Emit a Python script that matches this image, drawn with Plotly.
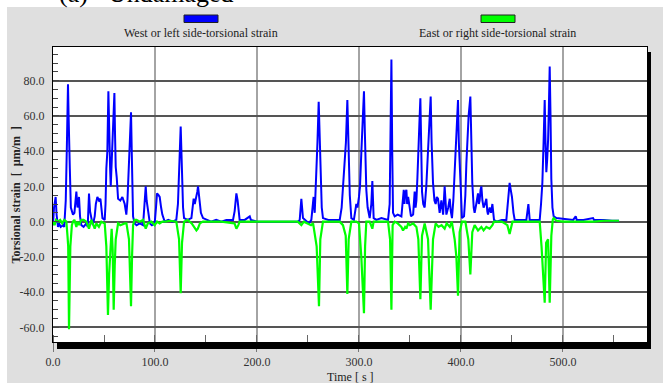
import plotly.graph_objects as go

# ---------------- data ----------------
west_t = [0, 1, 2.6, 3.5, 4.9, 6, 7.5, 9.8, 11, 12.5, 13.5, 14.7, 15.3, 15.7, 16.5, 17.5, 19.6, 21, 22.9, 24,
          25.5, 26.5, 27.8, 30, 32.7, 34, 35.3, 36.3, 37.6, 39, 40.9, 42, 43.5, 45, 46.5, 47.4, 48.5, 50.7, 51.5, 52.3,
          53.3, 54.3, 55, 56, 56.6, 57.5, 58.5, 60.2, 60.8, 61.5, 62.5, 63.8, 66, 68, 70.3, 71.9, 73, 74.5, 75.5, 76.5,
          77.2, 78.5, 80, 82, 85, 88.3, 89.5, 90.9, 91.8, 93.2, 95, 97, 99.7, 101, 102, 103.5, 104.6, 106, 107.2, 109.5,
          113, 117, 120.9, 122.5, 123.6, 124.5, 125.2, 126, 126.8, 127.5, 128.5, 132, 135.7, 136.5, 137.9, 139, 140.6, 141.5, 142.2, 143,
          143.8, 145, 147.1, 150.4, 155, 160, 165, 170, 176.5, 178.1, 179.8, 181, 181.7, 183, 188, 192.9, 194, 200,
          210, 220, 230, 240, 241.9, 243.5, 245.1, 248.4, 251, 253.3, 254.5, 255.5, 256.6, 258.2, 259.3, 260.5, 261.3, 262.1, 263.5, 264.7,
          270, 275, 281.1, 283, 284.3, 286, 287.2, 288.6, 289.3, 289.9, 291, 292.5, 295, 297.4, 298.5, 300, 301, 302.3, 303.5, 304.9,
          305.8, 307.2, 308.5, 310.5, 312.1, 313.1, 314.4, 317, 322, 328.5, 330.1, 331.2, 331.8, 332.6, 333.4, 335, 338, 341.6, 343.2, 343.9,
          344.6, 345.2, 346.5, 347.2, 348.2, 349.8, 351, 353.1, 354.6, 355.5, 356.3, 357.3, 358.2, 359.2, 360.2, 361, 361.8, 363, 364.4, 366,
          367.7, 369, 370.3, 371.2, 372.6, 374, 375.2, 376.3, 377.5, 378.5, 379.1, 380.8, 382.5, 384, 385, 385.7, 387.5, 389, 390, 391.2,
          392.5, 393.8, 395.5, 397.1, 397.9, 398.7, 400, 401, 403, 404.3, 405.3, 406.5, 407.5, 409.2, 410, 411.1, 412.5, 413.4, 415, 416.7,
          417.5, 418.3, 419.2, 420, 421, 422.2, 423.5, 424.9, 425.8, 426.5, 428.1, 429.5, 430.8, 431.6, 432.4, 434.7, 440, 444.5, 445.5, 446.5,
          447.7, 448.8, 450, 451.5, 452.7, 458, 464.1, 465, 466.1, 467.4, 472, 477.2, 478.5, 479.8, 481, 482.1, 482.9, 483.7, 484.5, 485.4,
          486.2, 487, 487.8, 488.6, 489.7, 490.9, 493.6, 500, 505, 510, 512.5, 513.5, 520, 529.5, 530.5, 540, 548, 555]
west_v = [-2, 8, 14, 4, -3, -1, -3, -2, -3, 12, 40, 78, 60, 42, 30, 8, 4, 5, 17, 8,
          14, 3, -2, -3, -1, -3, 16, 6, 2, -2, 3, 10, 14, 12, 13, 8, 2, 1, 10, 30,
          40, 74, 45, 30, 20, 35, 45, 73, 50, 31, 25, 13, 12, 14, 10, 4, 12, 30, 45, 62,
          40, 3, -1, -2, -1, -2, 8, 20, 12, 6, -1, -2, -1, 8, 16, 15, 14, 8, 4, 0,
          1, 0, 1, 10, 28, 40, 54, 38, 20, 8, 2, 1, 2, 8, 13, 10, 14, 17, 20, 15,
          10, 5, 2, 1, 0, 1, 0, 1, 1, 6, 16, 12, 8, 1, 1, 3, 1, 0,
          0, 0, 0, 0, 1, 13, 2, 0, -1, 1, 10, 14, 5, 25, 45, 68, 48, 30, 8, 2,
          1, 1, 1, 8, 20, 30, 45, 69, 50, 35, 15, 2, 1, 10, 8, 14, 20, 39, 55, 74,
          50, 18, 8, 2, 10, 23, 2, 1, 2, 1, 10, 50, 92, 40, 5, 3, 4, 3, 12, 18,
          10, 16, 18, 10, 14, 8, 3, 4, 17, 8, 12, 25, 36, 55, 70, 40, 17, 10, 8, 20,
          39, 55, 71, 45, 22, 12, 10, 14, 13, 8, 5, 12, 4, 20, 8, 4, 8, 13, 6, 2,
          12, 27, 45, 69, 45, 31, 10, 2, 3, 15, 33, 50, 60, 71, 40, 22, 8, 5, 10, 16,
          10, 12, 18, 20, 12, 8, 10, 13, 6, 4, 8, 5, 10, 6, 1, 0, 1, 1, 8, 15,
          22, 18, 14, 5, 1, 1, 1, 5, 10, 1, 1, 1, 10, 22, 45, 69, 45, 28, 35, 46,
          65, 88, 60, 24, 8, 3, 2, 1.5, 1.5, 1, 3, 1, 1, 2, 1, 1, 0.5, 0.5]

east_t = [0, 1.5, 3, 5, 7, 9, 11, 13.1, 14.2, 14.9, 15.7, 16.4, 17, 18.5, 19.6, 21, 22.9, 24, 25.5, 27.8,
          30, 32.7, 35.3, 37.6, 40.9, 42.5, 45, 47.4, 50.7, 52.3, 53.9, 55, 56.6, 57.5, 58.5, 59.5, 60.5, 61.5, 63.8, 66,
          70.3, 72, 74.5, 76.5, 77.5, 78.5, 80, 82, 85, 88.3, 90.9, 93, 96.4, 99.7, 102, 104.6, 107.2, 110, 115, 120.9,
          123.6, 125.2, 126.5, 128.5, 132, 136, 140.6, 142, 144, 147, 150, 165, 178, 179.8, 181.7, 183, 190, 200, 230, 240,
          243.5, 246, 253, 255, 258.5, 260.8, 262.1, 264.7, 270, 281.1, 284.3, 287, 288.6, 289.9, 292.5, 297.4, 300, 302.3, 304.9, 306,
          307.2, 310.5, 313.1, 314.4, 320, 328.5, 330.5, 331.8, 333, 335, 338, 341.6, 343.2, 345.2, 346.5, 348.2, 350, 353.1, 356.3, 358.2,
          360.2, 361.8, 364.4, 367.7, 370.3, 372.6, 375.2, 378, 381, 384, 386, 389, 391, 393.8, 395.5, 397.1, 398.7, 401, 404.3, 407.2,
          409.2, 411.1, 413.4, 416.7, 420, 422.2, 424.9, 428.1, 430.8, 432.4, 440, 445.5, 447.7, 449, 450.5, 460, 470, 477.2, 479, 482.1,
          483.5, 485.4, 487, 488, 488.6, 490, 490.9, 493.6, 500, 510, 520, 530, 540, 550, 555]
east_v = [0, -2, 1, 0, 1, -1, 1, 0, -8, -14, -61, -30, -14, -2, 0, 1, -3, 0, -2, 1,
          1, 0, -4, 1, -4, -1, -3, 0, -1, -14, -53, -30, -14, -4, -16, -50, -25, -10, -1, -2,
          -1, -1, -10, -48, -20, -2, 1, 1, 0, 1, -4, -1, 0, -2, 0, -1, 0, 0, 0.5, 0,
          -10, -40.6, -12, 0, 1, -1, -5, -4, -1, 0, 0, 0, -1, -4, -2, 0, 0, 0, 0, 0,
          -2, 0, -2, -1, -14, -48, -10, 0, 0, 0, -2, -8, -41, -10, 0, 0, -1, -20, -52, -14,
          0, 0, -4, 0, 0, 0, -10, -50, -2, 0, -1, -3, -5, -3, -4, -1, -2, -1, -3, -10,
          -44, -8, -1, -10, -50, -10, -1, -3, -2, -4, -1, -3, 0, -10, -20, -42, -6, 0, 0, -10,
          -30, -6, -2, -5, -3, -5, -3, -4, -2, 0, 0, -2, -7, -4, 0, 0, 0, 0, -14, -46,
          -12, -10, -46, -10, -8, 1, 2, 0.5, 0, 0, 0, 0, 0.5, 0.5, 0.5]

series_names = ["West or left side-torsional strain", "East or right side-torsional strain"]
series_colors = ["#0000ff", "#00ff00"]

y_tickvals = [-60, -40, -20, 0, 20, 40, 60, 80]
y_ticktext = ["-60.0", "-40.0", "-20.0", "0.0", "20.0", "40.0", "60.0", "80.0"]
x_tickvals = [0, 100, 200, 300, 400, 500]
x_ticktext = ["0.0", "100.0", "200.0", "300.0", "400.0", "500.0"]

# ---------------- figure ----------------
W, H = 663, 383
L, R, T, B = 53, 16, 47, 41
PW, PH = W - L - R, H - T - B


def px(x):
    return (x - L) / PW


def py(y):
    return (H - B - y) / PH


SERIF = "Liberation Serif, Times New Roman, serif"

fig = go.Figure()
fig.add_trace(go.Scatter(x=west_t, y=west_v, mode="lines", name=series_names[0],
                         line=dict(color=series_colors[0], width=2), hoverinfo="skip"))
fig.add_trace(go.Scatter(x=east_t, y=east_v, mode="lines", name=series_names[1],
                         line=dict(color=series_colors[1], width=2.2), hoverinfo="skip"))

fig.update_layout(
    width=W, height=H,
    margin=dict(l=L, r=R, t=T, b=B, pad=0),
    paper_bgcolor="#dfdfdf",
    plot_bgcolor="white",
    showlegend=False,
    font=dict(family=SERIF, size=12, color="#222"),
)

fig.update_xaxes(
    range=[0, 582.4], showline=True, mirror=True, linecolor="black", linewidth=1,
    tickvals=x_tickvals, ticktext=x_ticktext, ticks="outside", ticklen=9, tickcolor="#777", tickwidth=1,
    showgrid=True, gridcolor="#a4a4a4", gridwidth=2, zeroline=False,
    minor=dict(ticks="inside", dtick=50, ticklen=7, tickcolor="#666", showgrid=False),
    tickfont=dict(family=SERIF, size=12, color="#333"),
)
fig.update_yaxes(
    range=[-68.3, 99.1], showline=True, mirror=True, linecolor="black", linewidth=1,
    tickvals=y_tickvals, ticktext=y_ticktext, ticks="inside", ticklen=6, tickcolor="#444",
    showgrid=True, gridcolor="#555555", gridwidth=1.5, zeroline=False,
    minor=dict(ticks="inside", dtick=5, ticklen=5, tickcolor="#444", showgrid=False),
    tickfont=dict(family=SERIF, size=12, color="#333"),
    ticklabelstandoff=5,
)

shapes = [
    # white outer margin (top & left)
    dict(type="rect", xref="paper", yref="paper", x0=px(0), x1=px(W), y0=py(7), y1=py(0),
         fillcolor="white", line=dict(width=0), layer="below"),
    dict(type="rect", xref="paper", yref="paper", x0=px(0), x1=px(7), y0=py(H), y1=py(0),
         fillcolor="white", line=dict(width=0), layer="below"),
    # shadow right and bottom
    dict(type="rect", xref="paper", yref="paper", x0=px(647), x1=px(651), y0=py(349), y1=py(52),
         fillcolor="black", line=dict(width=0), layer="above"),
    dict(type="rect", xref="paper", yref="paper", x0=px(57), x1=px(651), y0=py(349), y1=py(342.5),
         fillcolor="black", line=dict(width=0), layer="above"),
    # legend swatches
    dict(type="rect", xref="paper", yref="paper", x0=px(184), x1=px(218), y0=py(22.5), y1=py(15),
         fillcolor=series_colors[0], line=dict(color="#222", width=1), layer="above"),
    dict(type="rect", xref="paper", yref="paper", x0=px(481), x1=px(515), y0=py(22.5), y1=py(15),
         fillcolor=series_colors[1], line=dict(color="#222", width=1), layer="above"),
]
fig.update_layout(shapes=shapes)

annotations = [
    dict(text=series_names[0], x=px(201), y=py(33.5), xref="paper", yref="paper",
         xanchor="center", yanchor="middle", showarrow=False, font=dict(family=SERIF, size=12, color="#222")),
    dict(text=series_names[1], x=px(497.5), y=py(33.5), xref="paper", yref="paper",
         xanchor="center", yanchor="middle", showarrow=False, font=dict(family=SERIF, size=12, color="#222")),
    dict(text="<b>Torsional strain  [  µm/m  ]</b>", x=px(15.5), y=py(195), xref="paper", yref="paper",
         xanchor="center", yanchor="middle", textangle=-90, showarrow=False,
         font=dict(family=SERIF, size=12, color="#222")),
    dict(text="Time [ s ]", x=px(350), y=py(377), xref="paper", yref="paper",
         xanchor="center", yanchor="middle", showarrow=False, font=dict(family=SERIF, size=12, color="#222")),
    dict(text="(a)", x=px(57), y=py(-6), xref="paper", yref="paper",
         xanchor="left", yanchor="middle", showarrow=False, font=dict(family=SERIF, size=26, color="black")),
    dict(text="Undamaged", x=px(106), y=py(-6), xref="paper", yref="paper",
         xanchor="left", yanchor="middle", showarrow=False, font=dict(family=SERIF, size=26, color="black")),
]
fig.update_layout(annotations=annotations)

fig.write_html("out.html")
